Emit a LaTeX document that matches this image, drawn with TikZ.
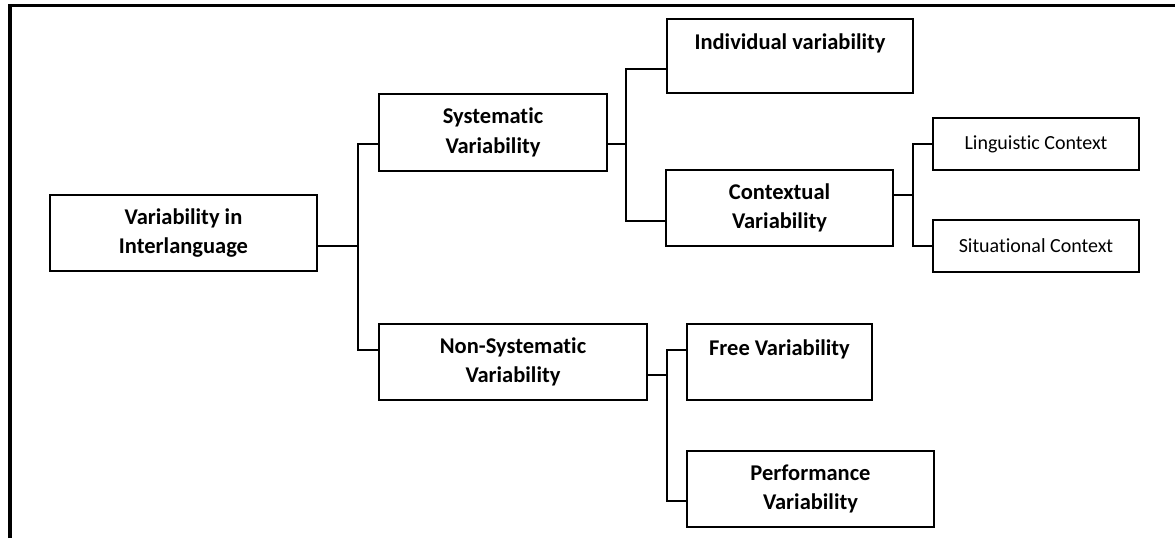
\documentclass[tikz,border=0pt]{standalone}
\usepackage{fontspec}
\setmainfont{Carlito}[Ligatures=NoCommon]
\usepackage{tikz}

\begin{document}
\begin{tikzpicture}[x=1pt,y=-1pt]
\tikzset{
  vbox/.style={draw,line width=1.5pt,inner sep=0pt,align=center,font=\fontsize{22.5}{29.5}\selectfont\bfseries},
  cbox/.style={draw,line width=1.5pt,inner sep=0pt,align=center,font=\fontsize{20}{24}\selectfont},
  vline/.style={line width=1.5pt}
}
\useasboundingbox (0,0) rectangle (1175,538);
%
\draw[line width=3.5pt] (10,538) -- (10,5.5) -- (1175,5.5);
%
\node[vbox,minimum width=267pt,minimum height=76pt] (root) at (183.5,233) {Variability in\\Interlanguage};
\node[vbox,minimum width=228pt,minimum height=77pt] (sys) at (493,132.5) {Systematic\\Variability};
\node[vbox,minimum width=268pt,minimum height=76pt] (nonsys) at (513,362) {Non-Systematic\\Variability};
\node[vbox,minimum width=246pt,minimum height=74pt] (indiv) at (790,56) {Individual variability\\~};
\node[vbox,minimum width=227pt,minimum height=76pt] (context) at (779.5,208) {Contextual\\Variability};
\node[cbox,minimum width=206pt,minimum height=52pt] (ling) at (1036,144) {Linguistic Context};
\node[cbox,minimum width=206pt,minimum height=52pt] (situ) at (1036,246) {Situational Context};
\node[vbox,minimum width=185pt,minimum height=76pt] (free) at (779.5,362) {Free Variability\\~};
\node[vbox,minimum width=247pt,minimum height=76pt] (perf) at (810.5,489) {Performance\\Variability};
%
\coordinate (tA) at (358,0);
\coordinate (tB) at (626,0);
\coordinate (tC) at (913,0);
\coordinate (tD) at (667,0);
%
\coordinate (rootR) at ([yshift=-13pt]root.east);
\coordinate (sysL) at ([yshift=-11.5pt]sys.west);
\coordinate (sysR) at ([yshift=-11.5pt]sys.east);
\coordinate (nonsysL) at ([yshift=12pt]nonsys.west);
\coordinate (nonsysR) at ([yshift=-13pt]nonsys.east);
\coordinate (indivL) at ([yshift=-13pt]indiv.west);
\coordinate (contextL) at ([yshift=-13pt]context.west);
\coordinate (contextR) at ([yshift=13pt]context.east);
\coordinate (freeL) at ([yshift=12pt]free.west);
\coordinate (perfL) at ([yshift=-12pt]perf.west);
%
\draw[vline] (rootR) -- (rootR -| tA);
\draw[vline] (sysL) -| (tA |- nonsysL) -- (nonsysL);
%
\draw[vline] (sysR) -- (sysR -| tB);
\draw[vline] (indivL) -| (tB |- contextL) -- (contextL);
%
\draw[vline] (contextR) -- (contextR -| tC);
\draw[vline] (ling.west) -| (tC |- situ.west) -- (situ.west);
%
\draw[vline] (nonsysR) -- (nonsysR -| tD);
\draw[vline] (freeL) -| (tD |- perfL) -- (perfL);
%
\end{tikzpicture}
\end{document}
